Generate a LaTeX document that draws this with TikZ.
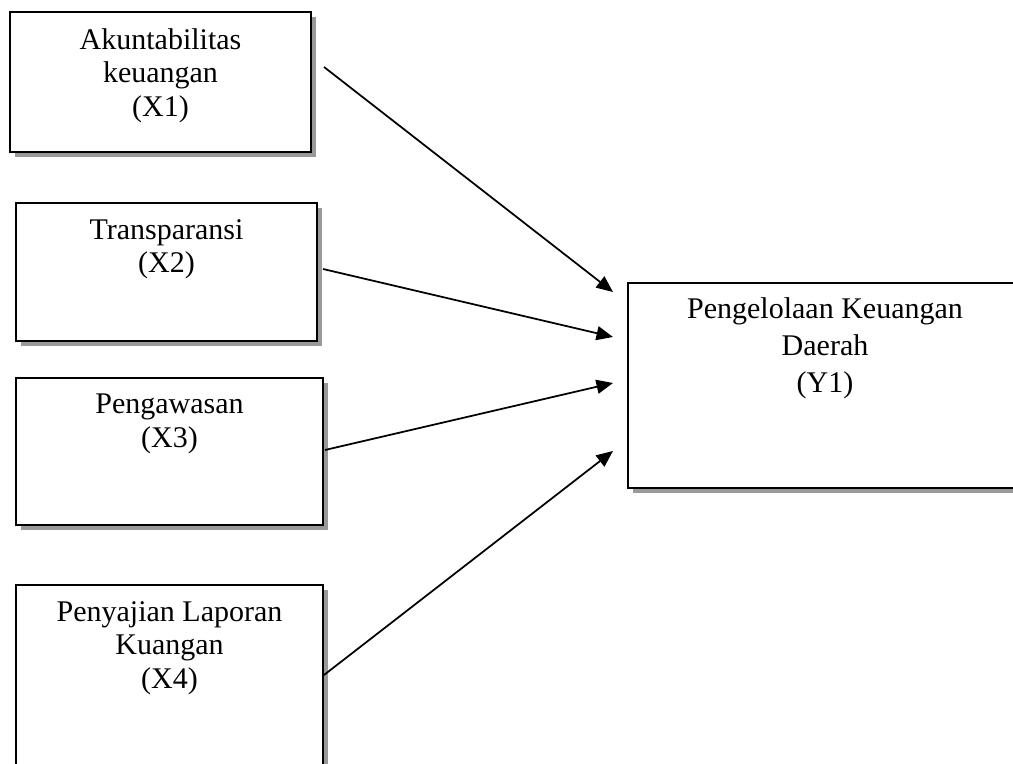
\documentclass[tikz,border=0pt]{standalone}
\usepackage{fontspec}
\setmainfont{Liberation Serif}
\usepackage{tikz}
\usetikzlibrary{arrows.meta,calc,shadows}

\begin{document}
\begin{tikzpicture}[x=0.4pt,y=-0.4pt,
  font=\fontsize{12}{13.4}\selectfont,
  varbox/.style={draw, line width=0.8pt, fill=white, align=center,
    anchor=north west, inner xsep=0pt, inner ysep=6.5pt,
    drop shadow={shadow xshift=2pt, shadow yshift=-2pt, fill=black!40, opacity=1}},
  link/.style={line width=0.7pt, -{Triangle[length=6.6pt,width=5.6pt]}}]
\useasboundingbox (0,0) rectangle (1013,764);
% independent variables
\node[varbox, minimum width=120.4pt, text depth=8pt] (x1) at (9,11)
  {Akuntabilitas\\keuangan\\(X1)};
\node[varbox, minimum width=120.4pt, text depth=21pt] (x2) at (15,202)
  {Transparansi\\(X2)};
\node[varbox, minimum width=122.8pt, text depth=24.6pt] (x3) at (15,377)
  {Pengawasan\\(X3)};
\node[varbox, minimum width=122.8pt, text depth=27pt] (x4) at (15,584)
  {Penyajian Laporan\\Kuangan\\(X4)};
% dependent variable
\node[varbox, minimum width=157.6pt, inner ysep=6pt, text depth=32pt,
  font=\fontsize{12}{14.8}\selectfont] (y1) at (627,282)
  {Pengelolaan Keuangan\\Daerah\\(Y1)};
% paths
\draw[link] ($(x1.north east)+(12,56)$) -- ($(y1.north west)+(-14,10)$);
\draw[link] ($(x2.north east)+(5,67)$) -- ($(y1.north west)+(-14,55)$);
\draw[link] ($(x3.north east)+(1,73)$) -- ($(y1.north west)+(-14,101)$);
\draw[link] ($(x4.north east)+(0,91)$) -- ($(y1.north west)+(-14,169)$);
\end{tikzpicture}
\end{document}
